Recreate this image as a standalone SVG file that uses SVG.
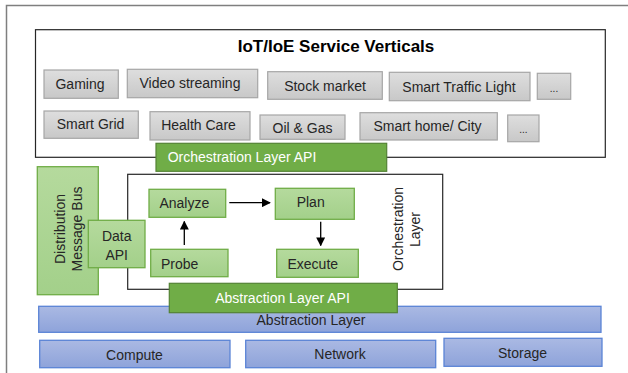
<svg xmlns="http://www.w3.org/2000/svg" width="628" height="373" viewBox="0 0 628 373">
<defs>
<linearGradient id="gGray" x1="0" y1="0" x2="0" y2="1"><stop offset="0" stop-color="#dedede"/><stop offset="1" stop-color="#c8c8c8"/></linearGradient>
<linearGradient id="gGreen" x1="0" y1="0" x2="0" y2="1"><stop offset="0" stop-color="#b5da9d"/><stop offset="1" stop-color="#a3d08a"/></linearGradient>
<linearGradient id="gBlue" x1="0" y1="0" x2="0" y2="1"><stop offset="0" stop-color="#aab9e3"/><stop offset="1" stop-color="#8ea3da"/></linearGradient>
<marker id="arr" viewBox="0 0 10 10" refX="9" refY="5" markerWidth="9" markerHeight="9" markerUnits="userSpaceOnUse" orient="auto"><path d="M0,0 L10,5 L0,10 z" fill="#000"/></marker>
</defs>
<style>
text{font-family:"Liberation Sans",Arial,sans-serif;font-size:14px;fill:#262626;text-anchor:middle}
.gray{fill:url(#gGray);stroke:#a6a6a6;stroke-width:1.2}
.lg{fill:url(#gGreen);stroke:#70ad47;stroke-width:1.3}
.dg{fill:#70ad47;stroke:#548235;stroke-width:1.2}
.bl{fill:url(#gBlue);stroke:#5b84d6;stroke-width:1.3}
.wt{fill:#ffffff}
.dots{font-size:10px}
.frame{fill:#fff;stroke:#262626;stroke-width:1.2}
.conn{stroke:#000;stroke-width:1.3;fill:none;marker-end:url(#arr)}
</style>
<rect x="0" y="0" width="628" height="373" fill="#fff"/>
<rect id="outer" x="6.5" y="5.5" width="640" height="400" fill="none" stroke="#7f7f7f" stroke-width="1.5"/>

<g id="verticals">
<rect class="frame" x="35.5" y="29.7" width="569.8" height="127.6"/>
<text x="336" y="52" style="font-weight:bold;font-size:17px;fill:#000">IoT/IoE Service Verticals</text>
</g>
<g id="gaming"><rect class="gray" x="44" y="70" width="74.3" height="28.3"/><text x="80" y="88.5">Gaming</text></g>
<g id="video"><rect class="gray" x="127.3" y="69.3" width="130.4" height="28.4"/><text x="190" y="88">Video streaming</text></g>
<g id="stock"><rect class="gray" x="267.7" y="71.7" width="114.6" height="27.6"/><text x="325" y="90.5">Stock market</text></g>
<g id="traffic"><rect class="gray" x="389.3" y="72.3" width="140.7" height="28.4"/><text x="459" y="91.5">Smart Traffic Light</text></g>
<g id="more1"><rect class="gray" x="537.3" y="73.3" width="33.4" height="26"/><text class="dots" x="554" y="91.5">...</text></g>
<g id="grid"><rect class="gray" x="44" y="111" width="94.3" height="27.3"/><text x="90.5" y="128.5">Smart Grid</text></g>
<g id="health"><rect class="gray" x="150" y="111.7" width="100" height="28.3"/><text x="198.5" y="130">Health Care</text></g>
<g id="oilgas"><rect class="gray" x="260" y="115" width="85" height="24.3"/><text x="302.5" y="132.5">Oil &amp; Gas</text></g>
<g id="smarthome"><rect class="gray" x="360" y="112.7" width="137.3" height="27.3"/><text x="427.5" y="130.5">Smart home/ City</text></g>
<g id="more2"><rect class="gray" x="507.7" y="115" width="31.3" height="26.7"/><text class="dots" x="523.3" y="133">...</text></g>

<g id="orch-api"><rect class="dg" x="156" y="143.3" width="230.7" height="28"/><text class="wt" x="167.7" y="161.7" style="text-anchor:start">Orchestration Layer API</text></g>

<g id="bus"><rect class="lg" x="37.3" y="166.7" width="61" height="128"/>
<text transform="translate(64.5,229) rotate(-90)">Distribution</text>
<text transform="translate(81.5,229) rotate(-90)">Message Bus</text></g>

<g id="orch-layer"><rect class="frame" x="127.7" y="174.3" width="315" height="115"/>
<text transform="translate(402.5,229) rotate(-90)">Orchestration</text>
<text transform="translate(419.5,229.5) rotate(-90)">Layer</text></g>

<g id="data-api"><rect class="lg" x="88.3" y="220.3" width="56.7" height="47.4"/><text x="116.7" y="241">Data</text><text x="116.7" y="259.5">API</text></g>

<g id="analyze"><rect class="lg" x="149" y="189.3" width="76.7" height="28"/><text x="184.3" y="208">Analyze</text></g>
<g id="plan"><rect class="lg" x="275.3" y="188.3" width="79" height="31"/><text x="310.7" y="207">Plan</text></g>
<g id="probe"><rect class="lg" x="150.7" y="249.3" width="77.3" height="27.4"/><text x="179.7" y="268.5">Probe</text></g>
<g id="execute"><rect class="lg" x="276.7" y="249.3" width="81.6" height="28"/><text x="312.8" y="268.5">Execute</text></g>

<g id="connectors">
<line class="conn" x1="184.3" y1="245" x2="184.3" y2="221.5"/>
<line class="conn" x1="229.3" y1="202.7" x2="270" y2="202.7"/>
<line class="conn" x1="320.7" y1="221.7" x2="320.7" y2="245.5"/>
</g>

<g id="abs-layer"><rect class="bl" x="38.7" y="306.3" width="562.3" height="26"/><text x="311" y="324.5">Abstraction Layer</text></g>
<g id="abs-api"><rect class="dg" x="169.3" y="283.3" width="228" height="29.4"/><text class="wt" x="282.5" y="302.5">Abstraction Layer API</text></g>

<g id="compute"><rect class="bl" x="39.7" y="340.3" width="190.3" height="27.4"/><text x="134.5" y="359.5">Compute</text></g>
<g id="network"><rect class="bl" x="245.7" y="340.3" width="190" height="27.4"/><text x="340" y="359">Network</text></g>
<g id="storage"><rect class="bl" x="444" y="338.3" width="158" height="28"/><text x="522.5" y="357.5">Storage</text></g>
</svg>
